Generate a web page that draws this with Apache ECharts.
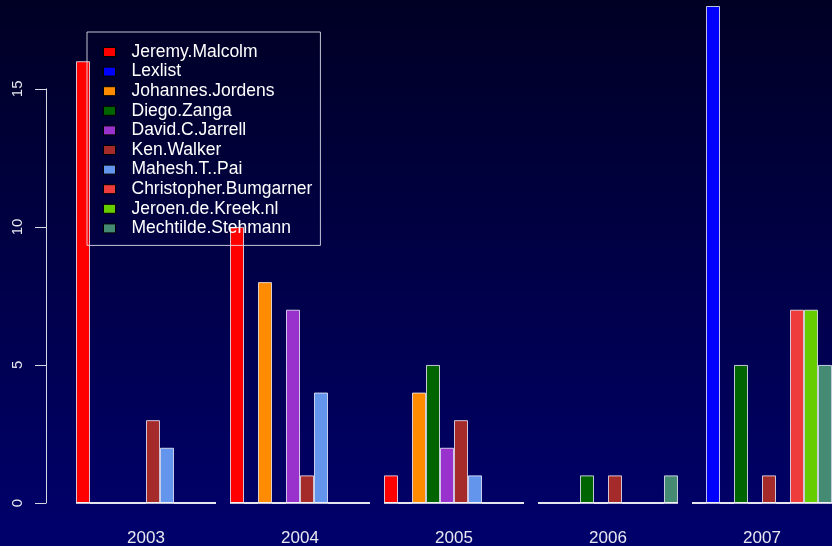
<!DOCTYPE html>
<html>
<head>
<meta charset="utf-8">
<script src="https://cdn.jsdelivr.net/npm/echarts@6/dist/echarts.min.js"></script>
<style>
html,body{margin:0;padding:0;background:#000040;}
#chart{width:832px;height:546px;}
</style>
</head>
<body>
<div id="chart"></div>
<script>
var years = ['2003', '2004', '2005', '2006', '2007'];
var seriesNames = ['Jeremy.Malcolm', 'Lexlist', 'Johannes.Jordens', 'Diego.Zanga', 'David.C.Jarrell',
  'Ken.Walker', 'Mahesh.T..Pai', 'Christopher.Bumgarner', 'Jeroen.de.Kreek.nl', 'Mechtilde.Stehmann'];
var seriesColors = ['#FF0000', '#0000FF', '#FF8C00', '#006400', '#9932CC',
  '#A52A2A', '#6495ED', '#EE3B3B', '#66CD00', '#458B74'];
var jeremyMalcolm = [16, 10, 1, 0, 0];
var lexlist = [0, 0, 0, 0, 18];
var johannesJordens = [0, 8, 4, 0, 0];
var diegoZanga = [0, 0, 5, 1, 5];
var davidCJarrell = [0, 7, 2, 0, 0];
var kenWalker = [3, 1, 3, 1, 1];
var maheshTPai = [2, 4, 1, 0, 0];
var christopherBumgarner = [0, 0, 0, 0, 7];
var jeroenDeKreek = [0, 0, 0, 0, 7];
var mechtildeStehmann = [0, 0, 0, 1, 5];
var yTicks = [0, 5, 10, 15];

var seriesValues = [jeremyMalcolm, lexlist, johannesJordens, diegoZanga, davidCJarrell,
  kenWalker, maheshTPai, christopherBumgarner, jeroenDeKreek, mechtildeStehmann];

var FONT = '"Liberation Sans", Arial, Helvetica, sans-serif';
var nBars = seriesNames.length;
var gapFrac = 1 / (nBars + 1);

var series = seriesNames.map(function (name, i) {
  return {
    name: name,
    type: 'bar',
    xAxisIndex: 0,
    yAxisIndex: 0,
    barGap: '0%',
    barCategoryGap: (gapFrac * 100).toFixed(3) + '%',
    data: seriesValues[i],
    itemStyle: {
      color: seriesColors[i],
      borderColor: 'rgba(240,240,250,0.8)',
      borderWidth: 1
    },
    emphasis: { disabled: true },
    animation: false
  };
});

// white baseline under each group (as R draws for zero-height bars)
series.push({
  type: 'custom',
  xAxisIndex: 0,
  yAxisIndex: 0,
  silent: true,
  animation: false,
  z: 3,
  data: years.map(function (y, i) { return [i, 0]; }),
  renderItem: function (params, api) {
    var c = api.coord([api.value(0), 0]);
    var band = api.size([1, 0])[0];
    var half = band * (1 - gapFrac) / 2;
    return {
      type: 'line',
      shape: { x1: c[0] - half, y1: c[1], x2: c[0] + half, y2: c[1] },
      style: { stroke: '#ffffff', lineWidth: 1.5 }
    };
  }
});

var option = {
  backgroundColor: {
    type: 'linear', x: 0, y: 0, x2: 0, y2: 1,
    colorStops: [
      { offset: 0, color: '#000024' },
      { offset: 1, color: '#00006c' }
    ]
  },
  textStyle: { fontFamily: FONT },
  legend: {
    orient: 'vertical',
    left: 87,
    top: 32,
    padding: [11, 8, 8, 16],
    itemGap: 1.6,
    itemWidth: 12,
    itemHeight: 9,
    borderColor: 'rgba(230,230,240,0.85)',
    borderWidth: 1,
    selectedMode: false,
    icon: 'rect',
    data: seriesNames,
    itemStyle: { borderColor: '#000000', borderWidth: 1 },
    textStyle: {
      color: '#ffffff',
      fontSize: 17.5,
      fontFamily: FONT,
      lineHeight: 17.3,
      padding: [0, 0, 0, 11]
    }
  },
  grid: [
    { left: 69, width: 770, top: 6, bottom: 43, containLabel: false, outerBoundsMode: 'none' },
    { left: 69, width: 770, top: 503 - 15 * (497 / 18), bottom: 43, containLabel: false, outerBoundsMode: 'none' }
  ],
  xAxis: [
    {
      type: 'category',
      gridIndex: 0,
      data: years,
      axisLine: { show: false },
      axisTick: { show: false },
      axisLabel: { color: '#e8e8f0', fontSize: 17, fontFamily: FONT, margin: 27 }
    },
    {
      type: 'category',
      gridIndex: 1,
      data: years,
      show: false
    }
  ],
  yAxis: [
    {
      type: 'value',
      gridIndex: 0,
      min: 0,
      max: 18,
      show: false
    },
    {
      type: 'value',
      gridIndex: 1,
      min: yTicks[0],
      max: yTicks[yTicks.length - 1],
      interval: 5,
      offset: 23,
      splitLine: { show: false },
      axisLine: { show: true, lineStyle: { color: '#d8d8e4', width: 1 } },
      axisTick: { show: true, length: 11, lineStyle: { color: '#d8d8e4', width: 1 } },
      axisLabel: { color: '#e8e8f0', fontSize: 15, fontFamily: FONT, rotate: 90, margin: 21 }
    }
  ],
  series: series
};

var chart = echarts.init(document.getElementById('chart'), null, { renderer: 'canvas' });
chart.setOption(option);
</script>
</body>
</html>
